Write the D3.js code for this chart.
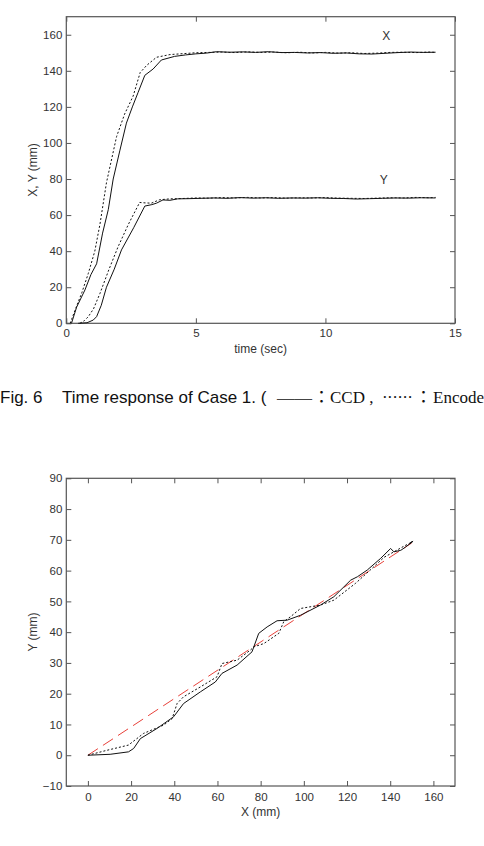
<!DOCTYPE html>
<html>
<head>
<meta charset="UTF-8">
<script src="https://d3js.org/d3.v7.min.js"></script>
<style>
  body { margin: 0; background: #fff; }
  svg { display: block; }
  .tick text { font-family: 'Liberation Sans', Arial, sans-serif; font-size: 11.5px; fill: #333; }
  .tick line { stroke: #555; }
  .lbl { font-family: 'Liberation Sans', Arial, sans-serif; font-size: 12px; fill: #333; }
</style>
</head>
<body>
<svg id="fig" width="484" height="846"></svg>
<script>
// --- Fig. 6 : time response (t in sec, value in mm) ---
const timeTicks = [0, 5, 10, 15];
const xyTicks = [0, 20, 40, 60, 80, 100, 120, 140, 160];

const xCcd = [[0.2,0],[0.4,9],[0.72,18.5],[0.95,27],[1.17,33],[1.4,50],[1.62,63],[1.81,80],[2.07,96],
  [2.32,111],[2.55,120],[2.77,128],[3.03,137.5],[3.35,141],[3.67,146],[4.18,148],[4.6,148.8],[5.0,149.4],
  [5.4,149.8],[5.8,150.6],[6.3,150.3],[6.8,150.5],[7.3,150.2],[7.8,150.6],[8.3,150.1],[8.8,150.2],
  [9.3,149.9],[9.8,150.1],[10.3,149.7],[10.8,149.9],[11.3,149.4],[11.8,149.3],[12.3,149.7],
  [12.8,150.1],[13.3,150.4],[13.8,150.2],[14.25,150.3]];
const xEnc = [[0.15,0],[0.33,7],[0.6,17],[0.85,27.7],[1.1,40],[1.3,55],[1.55,78],[1.94,103.5],[2.25,116],
  [2.58,126],[2.85,139],[3.1,143],[3.48,147.5],[4.0,149],[4.4,149.4],[5.0,150],[5.5,150.2],[6.0,150.4],
  [6.5,150.1],[7.0,150.5],[7.5,150.2],[8.0,150.4],[8.5,150],[9.0,150.3],[9.5,149.9],[10.0,150.2],
  [10.5,149.8],[11.0,150],[11.5,149.6],[12.0,149.8],[12.5,150.2],[13.0,150.3],[13.5,150.1],[14.0,150.4],[14.25,150.2]];
const yCcd = [[0.46,0],[0.8,0.3],[1.04,1.8],[1.17,3.7],[1.35,10],[1.55,20],[1.85,30],[2.13,40.7],
  [2.6,53],[3.03,65],[3.3,65.8],[3.48,66.6],[3.73,68.4],[4.0,68.2],[4.3,69],[4.7,69.1],[5.2,69.3],
  [5.7,69.5],[6.2,69.3],[6.7,69.7],[7.2,69.4],[7.7,69.6],[8.2,69.3],[8.7,69.5],[9.2,69.4],[9.7,69.6],
  [10.2,69.3],[10.7,69.2],[11.2,68.9],[11.7,69.1],[12.2,69.3],[12.7,69.5],[13.2,69.4],[13.7,69.6],[14.25,69.5]];
const yEnc = [[0.53,0],[0.7,1.5],[0.85,3.7],[1.05,8],[1.3,16.6],[1.65,30],[2.0,42.5],[2.4,55],
  [2.83,67],[3.0,66.8],[3.28,66.6],[3.6,68.5],[4.0,69],[4.5,69.2],[5.0,69.5],[5.5,69.4],[6.0,69.7],
  [6.5,69.5],[7.0,69.8],[7.5,69.5],[8.0,69.7],[8.5,69.4],[9.0,69.6],[9.5,69.5],[10.0,69.7],[10.5,69.4],
  [11.0,69.3],[11.5,69.2],[12.0,69.4],[12.5,69.6],[13.0,69.5],[13.5,69.8],[14.0,69.6],[14.25,69.8]];

// --- X-Y path (mm) ---
const pathXTicks = [0, 20, 40, 60, 80, 100, 120, 140, 160];
const pathYTicks = [-10, 0, 10, 20, 30, 40, 50, 60, 70, 80, 90];

const pathCcd = [[0,0],[10.3,0.3],[18.8,1.1],[21.2,2.2],[24.3,5.4],[32,8.7],[39.7,12.5],[44.3,16.8],
  [52.1,20.6],[59,23.8],[62.1,26.6],[69.1,29.3],[76,33.6],[79.1,39.6],[83,41.7],[87.6,43.7],[92.3,43.9],
  [98.5,45.5],[107.7,48.8],[113.9,51.5],[121.7,56.9],[124.8,58],[129.4,60.2],[135.6,64],[140.2,67.2],
  [141.7,66.1],[144.9,66.6],[147,67.6],[150.3,69.4],[149.2,68.8],[150.6,69.6]];
const pathEnc = [[0,0],[8.8,1.6],[18.8,3.3],[25.8,7.1],[35.1,9.8],[39,11.9],[41.3,16.8],[44.3,19],
  [52.1,22.2],[59.8,25.5],[62.1,29.8],[69.1,30.9],[75.3,34.2],[76.8,35.2],[81.5,36.3],[88.4,39.6],
  [90.7,43.4],[93.8,45],[98.5,47.7],[107.7,48.8],[113.9,50.4],[124,55.9],[132.5,61.3],[137.1,64.3],
  [141.7,66.1],[146,67.8],[150.3,69.4],[149,68.9],[150.5,69.5]];
const pathRef = [[0,0],[150,69]];

const svg = d3.select("#fig");

function panel(box, xDom, yDom, xTicks, yTicks) {
  const x = d3.scaleLinear().domain(xDom).range([box.l, box.r]);
  const y = d3.scaleLinear().domain(yDom).range([box.b, box.t]);
  const g = svg.append("g");
  g.append("g").attr("transform", `translate(0,${box.b})`)
    .call(d3.axisBottom(x).tickValues(xTicks).tickSize(-5).tickPadding(box.xpad));
  g.append("g").attr("transform", `translate(0,${box.t})`)
    .call(d3.axisTop(x).tickValues(xTicks).tickSize(-5).tickFormat(""));
  g.append("g").attr("transform", `translate(${box.l},0)`)
    .call(d3.axisLeft(y).tickValues(yTicks).tickSize(-5).tickPadding(4));
  g.append("g").attr("transform", `translate(${box.r},0)`)
    .call(d3.axisRight(y).tickValues(yTicks).tickSize(-5).tickFormat(""));
  g.selectAll(".domain").remove();
  g.append("rect").attr("x", box.l).attr("y", box.t)
    .attr("width", box.r - box.l).attr("height", box.b - box.t)
    .attr("fill", "none").attr("stroke", "#555").attr("stroke-width", 1.2);
  return { x, y, g };
}

function curve(p, data, opts) {
  const line = d3.line().x(d => p.x(d[0])).y(d => p.y(d[1]));
  p.g.append("path").datum(data).attr("d", line)
    .attr("fill", "none").attr("stroke", opts.color || "#111")
    .attr("stroke-width", opts.w || 1)
    .attr("stroke-dasharray", opts.dash || null);
}

// top panel
const timeP = panel({ l: 66.3, r: 455, t: 16.7, b: 323.3, xpad: 6 }, [0, 15], [0, 170], timeTicks, xyTicks);
curve(timeP, xEnc, { dash: "2,2" });
curve(timeP, yEnc, { dash: "2,2" });
curve(timeP, xCcd, {});
curve(timeP, yCcd, {});
timeP.g.append("text").attr("class", "lbl").attr("x", timeP.x(12.35)).attr("y", timeP.y(157)).attr("text-anchor", "middle").text("X");
timeP.g.append("text").attr("class", "lbl").attr("x", timeP.x(12.25)).attr("y", timeP.y(77)).attr("text-anchor", "middle").text("Y");
svg.append("text").attr("class", "lbl").attr("x", 260.6).attr("y", 353).attr("text-anchor", "middle").text("time (sec)");
svg.append("text").attr("class", "lbl").attr("transform", "translate(37,170) rotate(-90)").attr("text-anchor", "middle").text("X, Y (mm)");

// caption (pieces placed one by one, like the scanned figure)
const sans = "'Liberation Sans', Arial, sans-serif";
const serif = "'Liberation Serif', 'Times New Roman', serif";
const cjk = "'Noto Sans CJK TC', sans-serif";
function capText(x, txt, font, extra) {
  const t = svg.append("text").attr("x", x).attr("y", 402.5)
    .attr("font-size", 17).attr("font-family", font).attr("fill", "#111").text(txt);
  if (extra) extra(t);
  return t;
}
capText(0, "Fig. 6", sans);
capText(62, "Time response of Case 1. (", sans);
capText(277, "——", serif, t => t.attr("textLength", 35).attr("lengthAdjust", "spacingAndGlyphs").attr("fill", "#444"));
capText(313, "：", cjk);
capText(330, "CCD ,", serif);
capText(382, "······", serif, t => t.attr("textLength", 31).attr("lengthAdjust", "spacing"));
capText(415, "：", cjk);
capText(433, "Encoder)", serif);

// bottom panel
const pathP = panel({ l: 66.3, r: 455, t: 478.3, b: 786, xpad: 7 }, [-10, 170], [-10, 90], pathXTicks, pathYTicks);
curve(pathP, pathRef, { color: "#e8413a", dash: "12,6" });
curve(pathP, pathEnc, { dash: "2,2" });
curve(pathP, pathCcd, {});
svg.append("text").attr("class", "lbl").attr("x", 260.6).attr("y", 816).attr("text-anchor", "middle").text("X (mm)");
svg.append("text").attr("class", "lbl").attr("transform", "translate(37,632) rotate(-90)").attr("text-anchor", "middle").text("Y (mm)");
</script>
</body>
</html>
